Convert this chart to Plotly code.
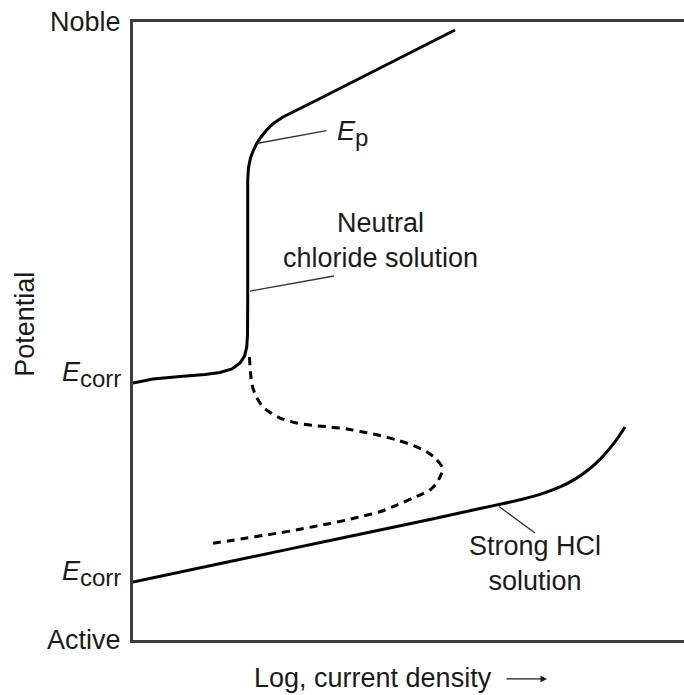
import plotly.graph_objects as go

# Schematic polarization curves (arbitrary units: x = log current density 0-100, y = potential 0-100)
neutral_x = [0, 3.63, 8.53, 13.07, 15.79, 17.97, 19.42, 20.24, 20.64, 20.78, 20.82, 20.82, 20.82,
             20.82, 20.96, 21.32, 21.87, 22.50, 23.23, 24.26, 25.59, 27.22, 33.94, 44.83, 58.44]
neutral_y = [41.59, 42.23, 42.64, 42.96, 43.28, 43.85, 44.82, 45.95, 47.41, 49.35, 55.02, 63.11, 71.20,
             74.43, 76.38, 77.99, 79.29, 80.42, 81.39, 82.52, 83.66, 84.63, 87.62, 92.56, 98.71]

active_x = [21.14, 21.32, 21.60, 22.32, 23.59, 25.05, 26.68, 29.71, 32.67, 35.75, 38.84, 41.74, 44.83,
            47.86, 50.64, 53.30, 54.99, 56.03, 56.08, 55.72, 54.99, 53.90, 52.45, 50.82, 47.91, 44.83,
            41.74, 38.78, 35.75, 32.67, 29.58, 26.68, 23.59, 20.64, 17.24, 13.61]
active_y = [45.79, 43.37, 41.26, 39.48, 37.70, 36.73, 35.92, 35.11, 34.71, 34.47, 34.14, 33.66, 33.09,
            32.36, 31.55, 30.47, 29.29, 28.04, 27.18, 26.38, 25.24, 24.27, 23.62, 22.98, 21.84, 20.76,
            20.06, 19.42, 18.85, 18.33, 17.80, 17.36, 16.91, 16.50, 16.02, 15.53]

hcl_x = [0, 17.60, 35.75, 53.90, 62.98, 66.61, 70.24, 73.87, 77.50, 80.22, 82.94, 84.75,
         86.57, 88.02, 89.29]
hcl_y = [9.39, 12.70, 16.10, 19.50, 21.28, 21.96, 22.69, 23.56, 24.76, 26.03, 27.75, 29.22,
         31.04, 32.75, 34.47]

# leader lines [start, end]
ep_leader_x = [22.41, 35.12]
ep_leader_y = [80.34, 82.44]
neutral_leader_x = [21.23, 36.48]
neutral_leader_y = [56.47, 58.90]
hcl_leader_x = [66.42, 72.96]
hcl_leader_y = [21.60, 17.31]

X_RANGE = [0, 100]
Y_RANGE = [0, 100]

FONT = "Liberation Sans, Arial, sans-serif"
TXT = "#1b1b1b"
FS = 27

fig = go.Figure()
fig.add_trace(go.Scatter(x=neutral_x, y=neutral_y, mode="lines",
                         line=dict(color="black", width=3), hoverinfo="skip"))
fig.add_trace(go.Scatter(x=active_x, y=active_y, mode="lines",
                         line=dict(color="black", width=3, dash="8px,6px", shape="spline",
                                   smoothing=0.8), hoverinfo="skip"))
fig.add_trace(go.Scatter(x=hcl_x, y=hcl_y, mode="lines",
                         line=dict(color="black", width=3, shape="spline", smoothing=1.0),
                         hoverinfo="skip"))
for lx, ly in [(ep_leader_x, ep_leader_y), (neutral_leader_x, neutral_leader_y),
               (hcl_leader_x, hcl_leader_y)]:
    fig.add_trace(go.Scatter(x=lx, y=ly, mode="lines",
                             line=dict(color="#333333", width=1.3), hoverinfo="skip"))


def px(v):  # data x -> paper fraction
    return (v - X_RANGE[0]) / (X_RANGE[1] - X_RANGE[0])


def py(v):  # data y -> paper fraction
    return (v - Y_RANGE[0]) / (Y_RANGE[1] - Y_RANGE[0])


ann = []
def txt(x, y, t, xa="center", ya="middle", ang=0, size=FS, ys=0, ref="data"):
    if ref == "data":
        d = dict(x=x, y=y, xref="x", yref="y")
    else:
        d = dict(x=px(x), y=py(y), xref="paper", yref="paper")
    d.update(text=t, showarrow=False, xanchor=xa, yanchor=ya, textangle=ang, yshift=ys,
             font=dict(family=FONT, size=size, color=TXT))
    ann.append(d)

LX = -1.8
txt(LX, Y_RANGE[1], "Noble", xa="right", ref="paper")
txt(LX, Y_RANGE[0], "Active", xa="right", ref="paper")
ecorr = '<i>E</i><sub><span style="font-size:24px">corr</span></sub>'
txt(LX, neutral_y[0], ecorr, xa="right", ys=8, ref="paper")
txt(LX, hcl_y[0], ecorr, xa="right", ys=8, ref="paper")
txt(-19.6, 51, "Potential", ang=-90, ref="paper")
txt(36.6, 82.0, '<i>E</i><sub><span style="font-size:24px">p</span></sub>', xa="left")
txt(44.83, 64.72, "Neutral<br>chloride solution")
txt(72.96, 12.46, "Strong HCl<br>solution")
txt(43.6, -6.1, "Log, current density", ref="paper")
ann.append(dict(x=px(75.14), y=py(-6.3), xref="paper", yref="paper", ax=-42, ay=0, text="",
                showarrow=True, arrowhead=2, arrowsize=1, arrowwidth=1.3, arrowcolor=TXT))

fig.update_layout(
    width=684, height=695,
    margin=dict(l=133, r=0, t=22, b=55),
    paper_bgcolor="white", plot_bgcolor="white",
    showlegend=False,
    annotations=ann,
    xaxis=dict(range=X_RANGE, showgrid=False, zeroline=False, showticklabels=False, ticks="",
               showline=True, linecolor="#3c3c3c", linewidth=2.5, mirror=True, fixedrange=True),
    yaxis=dict(range=Y_RANGE, showgrid=False, zeroline=False, showticklabels=False, ticks="",
               showline=True, linecolor="#3c3c3c", linewidth=2.5, mirror=False, fixedrange=True),
)

fig.write_html("out.html", config={"displayModeBar": False},
               post_script="document.body.style.margin='0';document.body.style.overflow='hidden';")
